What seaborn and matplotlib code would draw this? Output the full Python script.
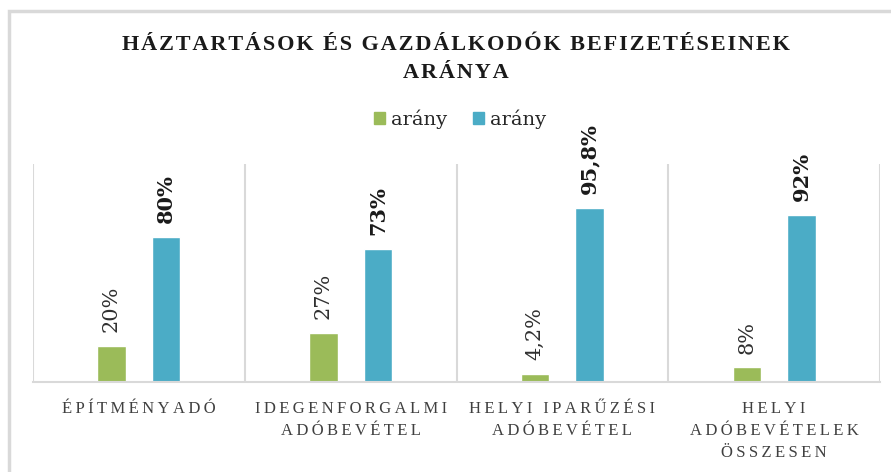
import matplotlib
matplotlib.use("Agg")
import matplotlib.pyplot as plt
from matplotlib.patches import Rectangle
import seaborn as sns
import pandas as pd

# --- data -------------------------------------------------------------
categories = [
    "ÉPÍTMÉNYADÓ",
    "IDEGENFORGALMI\nADÓBEVÉTEL",
    "HELYI IPARŰZÉSI\nADÓBEVÉTEL",
    "HELYI\nADÓBEVÉTELEK\nÖSSZESEN",
]
series_keys = ["haztartasok", "gazdalkodok"]
legend_labels = ["arány", "arány"]
haztartasok = [20, 27, 4.2, 8]
gazdalkodok = [80, 73, 95.8, 92]
title = "HÁZTARTÁSOK ÉS GAZDÁLKODÓK BEFIZETÉSEINEK\nARÁNYA"

colors = ["#9bbb59", "#4bacc6"]
grid_color = "#d9d9d9"
text_dark = "#404040"


def spaced(s, sep="\u2009"):
    """Widen tracking by putting a narrow space between letters."""
    return "\n".join(sep.join(line) for line in s.split("\n"))


def pct(v):
    return f"{v:g}".replace(".", ",") + "%"


df = pd.DataFrame({
    "kategoria": categories * 2,
    "sorozat": [series_keys[0]] * 4 + [series_keys[1]] * 4,
    "ertek": haztartasok + gazdalkodok,
})

sns.set_theme(style="white")
plt.rcParams["font.family"] = ["Liberation Serif", "DejaVu Serif"]

fig = plt.figure(figsize=(8.91, 4.72), dpi=100)
ax = fig.add_axes([33 / 891, 1 - 382 / 472, (880 - 33) / 891, (382 - 164) / 472])

sns.barplot(
    data=df, x="kategoria", y="ertek", hue="sorozat",
    hue_order=series_keys, palette=colors, order=categories,
    width=0.516, gap=0.477, dodge=True, saturation=1, ax=ax,
    legend=False,
)

ax.set_xlim(-0.5, len(categories) - 0.5)
ax.set_ylim(0, 120)

# value labels, rotated like the bars
for cont, vals, weight in zip(ax.containers, [haztartasok, gazdalkodok],
                              ["normal", "bold"]):
    ax.bar_label(cont, labels=[pct(v) for v in vals], rotation=90,
                 padding=10, fontsize=15, fontweight=weight,
                 family=["DejaVu Serif"],
                 color="#1a1a1a" if weight == "bold" else "#303030")

# category separators and base line
ax.set_xticks([i - 0.5 for i in range(len(categories) + 1)], minor=True)
ax.grid(which="minor", axis="x", color=grid_color, linewidth=1.5)
ax.grid(which="major", visible=False)
for side in ["left", "right", "top"]:
    ax.spines[side].set_visible(False)
ax.spines["bottom"].set_color(grid_color)
ax.spines["bottom"].set_linewidth(1.5)
ax.set_yticks([])
ax.set_xlabel("")
ax.set_ylabel("")
ax.set_xticks(range(len(categories)))
ax.set_xticklabels([spaced(c) for c in categories], fontsize=12,
                   color=text_dark, linespacing=1.5)
ax.tick_params(axis="x", which="both", length=0, pad=14)

# legend
handles = [Rectangle((0, 0), 1, 1, color=c) for c in colors]
fig.legend(handles, legend_labels, loc="center", ncol=2,
           bbox_to_anchor=(460 / 891, 1 - 119 / 472), frameon=False,
           prop={"family": "DejaVu Serif", "size": 14},
           handlelength=0.57, handleheight=0.57,
           handletextpad=0.3, columnspacing=1.3, labelcolor="#262626")

# title
fig.text(456 / 891, 1 - 59 / 472, spaced(title, "\u200a"), ha="center",
         va="center", fontsize=16, fontweight="bold", color="#1a1a1a",
         linespacing=1.5)

# chart frame
fig.patches.append(Rectangle((9 / 891, -0.2), 1.2, 1 - 11 / 472 + 0.2,
                             transform=fig.transFigure, fill=False,
                             edgecolor=grid_color, linewidth=2.5))

fig.savefig("out.png", dpi=100)
